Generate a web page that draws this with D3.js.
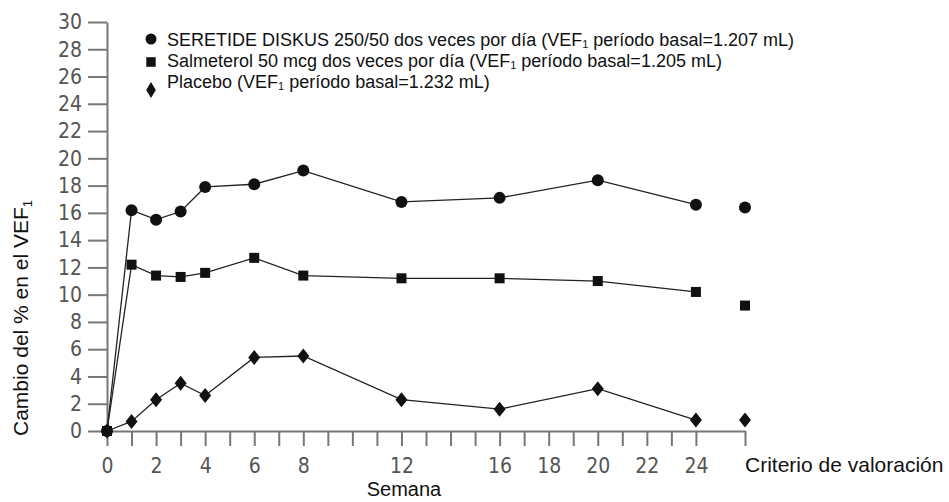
<!DOCTYPE html>
<html>
<head>
<meta charset="utf-8">
<script src="https://cdn.jsdelivr.net/npm/d3@7"></script>
<style>
  body { margin: 0; background: #fff; }
  svg { display: block; }
  .tick text { font-family: "Liberation Sans Narrow", "DejaVu Sans Condensed", Arial, sans-serif; font-size: 21px; fill: #555; }
  .tick line { stroke: #777; stroke-width: 2; }
  .domain { stroke: #777; stroke-width: 2; }
  .lab { font-family: "Liberation Sans", Arial, sans-serif; fill: #111; }
</style>
</head>
<body>
<svg id="chart" width="949" height="502"></svg>
<script>
// data
const weeks = [0, 1, 2, 3, 4, 6, 8, 12, 16, 20, 24];
const seretide = [0, 16.2, 15.5, 16.1, 17.9, 18.1, 19.1, 16.8, 17.1, 18.4, 16.6];
const salmeterol = [0, 12.2, 11.4, 11.3, 11.6, 12.7, 11.4, 11.2, 11.2, 11.0, 10.2];
const placebo = [0, 0.7, 2.3, 3.5, 2.6, 5.4, 5.5, 2.3, 1.6, 3.1, 0.8];
const endpointValues = [16.4, 9.2, 0.8];   // seretide, salmeterol, placebo
const endpointPos = 26;
const xTickLabels = [0, 2, 4, 6, 8, 12, 16, 18, 20, 22, 24];
const yTicks = d3.range(0, 31, 2);
const legendLabels = [
  ["SERETIDE DISKUS 250/50 dos veces por día (VEF", "1", " período basal=1.207 mL)"],
  ["Salmeterol 50 mcg dos veces por día (VEF", "1", " período basal=1.205 mL)"],
  ["Placebo (VEF", "1", " período basal=1.232 mL)"]
];

const series = [seretide, salmeterol, placebo];
const shapes = ["circle", "square", "diamond"];

const svg = d3.select("#chart");

const x = d3.scaleLinear().domain([0, endpointPos]).range([107, 745]);
const y = d3.scaleLinear().domain([0, 30]).range([431, 22]);

// y axis
svg.append("g")
  .attr("transform", `translate(${x(0)},0)`)
  .call(d3.axisLeft(y).tickValues(yTicks).tickSize(19).tickSizeOuter(0).tickPadding(6))

// x axis: ticks every week plus the endpoint tick
const xTicks = d3.range(0, 25).concat([endpointPos]);
svg.append("g")
  .attr("transform", `translate(0,${y(0)})`)
  .call(d3.axisBottom(x).tickValues(xTicks).tickSize(15).tickSizeOuter(0).tickPadding(12)
    .tickFormat(d => xTickLabels.includes(d) ? d : ""));

svg.append("text").attr("class", "lab")
  .attr("x", x(endpointPos)).attr("y", 472)
  .style("font-size", "21px")
  .text("Criterio de valoración");

svg.append("text").attr("class", "lab")
  .attr("x", 404).attr("y", 496)
  .attr("text-anchor", "middle")
  .style("font-size", "20px")
  .text("Semana");

const yl = svg.append("text").attr("class", "lab")
  .attr("transform", "translate(28,318) rotate(-90)")
  .attr("text-anchor", "middle")
  .style("font-size", "21px");
yl.append("tspan").text("Cambio del % en el VEF");
yl.append("tspan").attr("dy", 4).style("font-size", "13px").text("1");

// marker drawing: w = half width, h = half height
function marker(sel, shape, w, h) {
  if (shape === "circle") {
    sel.append("circle").attr("r", w).attr("fill", "#111");
  } else if (shape === "square") {
    sel.append("rect").attr("x", -w).attr("y", -h)
      .attr("width", 2 * w).attr("height", 2 * h).attr("fill", "#111");
  } else {
    sel.append("path").attr("d", `M0,${-h}L${w},0L0,${h}L${-w},0Z`).attr("fill", "#111");
  }
}
const dataSize = [[6, 6], [5, 5], [6, 7.5]];
const legendSize = [[5.5, 5.5], [4.7, 4.8], [4.8, 8]];

const line = d3.line().x((d, i) => x(weeks[i])).y(d => y(d));

series.forEach((vals, s) => {
  svg.append("path")
    .attr("d", line(vals))
    .attr("fill", "none")
    .attr("stroke", "#222")
    .attr("stroke-width", 1.3);

  vals.forEach((v, i) => {
    const g = svg.append("g").attr("transform", `translate(${x(weeks[i])},${y(v)})`);
    marker(g, shapes[s], dataSize[s][0], dataSize[s][1]);
  });

  const ge = svg.append("g").attr("transform", `translate(${x(endpointPos)},${y(endpointValues[s])})`);
  marker(ge, shapes[s], dataSize[s][0], dataSize[s][1]);
});

// legend
const legendY = [46, 67, 88];
const legendMarkY = [39, 62, 90];
legendLabels.forEach((parts, i) => {
  const g = svg.append("g").attr("transform", `translate(151,${legendMarkY[i]})`);
  marker(g, shapes[i], legendSize[i][0], legendSize[i][1]);
  const t = svg.append("text").attr("class", "lab")
    .attr("x", 167).attr("y", legendY[i])
    .style("font-size", "18px");
  t.append("tspan").text(parts[0]);
  t.append("tspan").attr("dy", 2).style("font-size", "11px").text(parts[1]);
  t.append("tspan").attr("dy", -2).text(parts[2]);
});
</script>
</body>
</html>
